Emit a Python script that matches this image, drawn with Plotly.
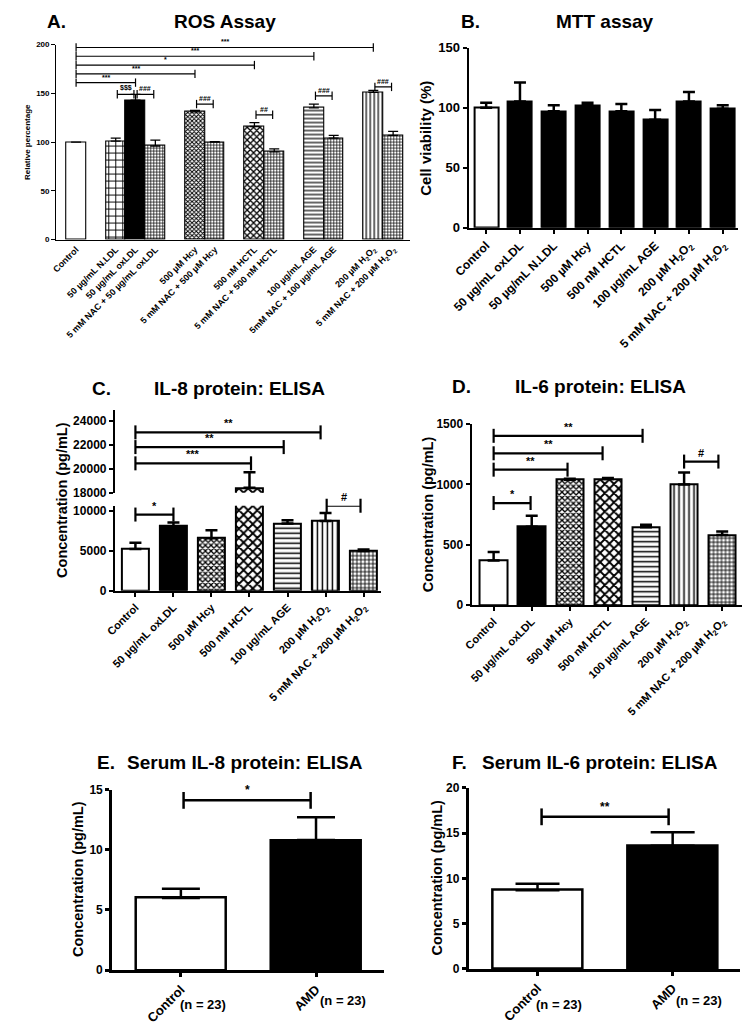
import plotly.graph_objects as go

FONT = "Arial, 'Liberation Sans', sans-serif"
PAGE_MARGIN = 8          # default body margin of the html page
W, H = 750 - PAGE_MARGIN, 1036 - PAGE_MARGIN

# ---------------- DATA ----------------
# A. ROS assay
A_labels = ["Control", "50 µg/mL N.LDL", "50 µg/mL oxLDL", "5 mM NAC + 50 µg/mL oxLDL",
            "500 µM Hcy", "5 mM NAC + 500 µM Hcy", "500 nM HCTL", "5 mM NAC + 500 nM HCTL",
            "100 µg/mL AGE", "5mM NAC + 100 µg/mL AGE",
            "200 µM H<sub>2</sub>O<sub>2</sub>", "5 mM NAC + 200 µM H<sub>2</sub>O<sub>2</sub>"]
A_group_sizes = [1, 3, 2, 2, 2, 2]
A_values = [100, 101, 143, 96, 131, 100, 116, 90, 135, 104, 151, 107]
A_errors = [0, 3, 6, 6, 1.5, 0.5, 4, 3, 4, 3, 2, 4]
A_ticks = [0, 50, 100, 150, 200]
# (from index, to index, y, label)
A_brackets = [(0, 10, 197, "***"), (0, 8, 188, "***"), (0, 6, 179, "*"), (0, 4, 170, "***"),
              (0, 2, 161, "***"), (1, 2, 149, "$$$"), (2, 3, 149, "###"), (4, 5, 139, "###"),
              (6, 7, 128, "##"), (8, 9, 147.5, "###"), (10, 11, 156.6, "###")]

# B. MTT assay
B_labels = ["Control", "50 µg/mL oxLDL", "50 µg/mL N.LDL", "500 µM Hcy", "500 nM HCTL",
            "100 µg/mL AGE", "200 µM H<sub>2</sub>O<sub>2</sub>",
            "5 mM NAC + 200 µM H<sub>2</sub>O<sub>2</sub>"]
B_values = [100, 105, 97, 102, 97, 90, 105, 99]
B_errors = [4, 16, 5, 2, 6, 8, 8, 3]
B_ticks = [0, 50, 100, 150]

# C. IL-8 ELISA and D. IL-6 ELISA share categories
CD_labels = ["Control", "50 µg/mL oxLDL", "500 µM Hcy", "500 nM HCTL", "100 µg/mL AGE",
             "200 µM H<sub>2</sub>O<sub>2</sub>", "5 mM NAC + 200 µM H<sub>2</sub>O<sub>2</sub>"]
C_values = [5200, 8050, 6550, 18400, 8400, 8700, 4950]
C_errors = [800, 450, 1000, 1300, 400, 1000, 200]
C_ticks_low = [0, 5000, 10000]
C_ticks_high = [18000, 20000, 22000, 24000]
C_brackets_high = [(0, 4.87, 23040, "**"), (0, 3.9, 21810, "**"), (0, 3.04, 20450, "***")]
C_brackets_low = [(0, 1, 9500, "*"), (5.03, 5.92, 10600, "#")]

D_values = [370, 650, 1040, 1045, 645, 1000, 580]
D_errors = [70, 90, 8, 8, 20, 100, 30]
D_ticks = [0, 500, 1000, 1500]
D_brackets = [(0, 4.7, 1563, "**"), (0, 3.91, 1404, "**"), (0, 2.86, 1259, "**"),
              (0, 1.94, 1123, "**"), (0, 0.97, 846, "*"), (5, 5.9, 1190, "#")]

# E / F. Serum ELISA
EF_labels = ["Control", "AMD"]
EF_n = ["(n = 23)", "(n = 23)"]
E_values = [6.0, 10.8]
E_errors = [0.75, 1.9]
E_ticks = [0, 5, 10, 15]
E_brackets = [(0.02, 0.96, 14.1, "*")]
F_values = [8.7, 13.6]
F_errors = [0.7, 1.5]
F_ticks = [0, 5, 10, 15, 20]
F_brackets = [(0.03, 0.97, 16.8, "**")]

# ---------------- STYLES ----------------
# pattern per bar: (fill colour, shape, size, solidity)
PAT_A = {
    "white": ("white", "", 8, 0.3),
    "black": ("black", "", 8, 0.3),
    "biggrid": ("white", "+", 7, 0.25),
    "finegrid": ("white", "+", 3, 0.4),
    "dots": ("white", "x", 3, 0.55),
    "checker": ("white", "x", 4.5, 0.5),
    "hlines": ("white", "-", 4, 0.3),
    "vlines": ("white", "|", 4, 0.3),
}
PAT_CD = {
    "white": ("white", "", 8, 0.3),
    "black": ("black", "", 8, 0.3),
    "finegrid": ("white", "+", 4, 0.4),
    "dots": ("white", "x", 4, 0.55),
    "checker": ("white", "x", 6.5, 0.5),
    "hlines": ("white", "-", 5, 0.3),
    "vlines": ("white", "|", 5, 0.3),
}
A_pat = ["white", "biggrid", "black", "finegrid", "dots", "finegrid", "checker", "finegrid",
         "hlines", "finegrid", "vlines", "finegrid"]
B_pat = ["white"] + ["black"] * 7
CD_pat = ["white", "black", "dots", "checker", "hlines", "vlines", "finegrid"]


def fx(px):
    return (px - PAGE_MARGIN) / W


def fy(px):
    return 1 - (px - PAGE_MARGIN) / H


fig = go.Figure()
annotations = []


def add_bars(x, values, errors, pats, pat_table, xa, ya, width, olw, ew, ecap):
    for xi, v, e, p in zip(x, values, errors, pats):
        col, shape, size, sol = pat_table[p]
        marker = dict(color=col, line=dict(color="black", width=olw))
        if shape:
            marker["pattern"] = dict(shape=shape, size=size, solidity=sol,
                                     fgcolor="black", bgcolor="white", fillmode="replace")
        fig.add_trace(go.Bar(
            x=[xi], y=[v], width=width, xaxis=xa, yaxis=ya, showlegend=False,
            hoverinfo="skip", marker=marker,
            error_y=dict(type="data", array=[e], arrayminus=[0], symmetric=False,
                         color="black", thickness=ew, width=ecap),
        ))


def add_bracket(x0, x1, y, label, xa, ya, lw, cap, fsize, yshift=1):
    fig.add_trace(go.Scatter(
        x=[x0, x1], y=[y, y], xaxis=xa, yaxis=ya, mode="lines+markers", showlegend=False,
        hoverinfo="skip", cliponaxis=False,
        line=dict(color="black", width=lw),
        marker=dict(symbol="line-ns", size=cap, line=dict(color="black", width=lw)),
    ))
    annotations.append(dict(x=(x0 + x1) / 2, y=y, xref=xa, yref=ya, text=label, showarrow=False,
                            yanchor="bottom", yshift=yshift, font=dict(size=fsize)))


def title(letter, lx, text, tx, y, size=19):
    annotations.append(dict(x=fx(lx), y=fy(y), xref="paper", yref="paper", text=letter,
                            showarrow=False, xanchor="center", yanchor="middle",
                            font=dict(size=size)))
    annotations.append(dict(x=fx(tx), y=fy(y), xref="paper", yref="paper", text=text,
                            showarrow=False, xanchor="center", yanchor="middle",
                            font=dict(size=size)))


def ytitle(text, x, y, size):
    annotations.append(dict(x=fx(x), y=fy(y), xref="paper", yref="paper", text=text,
                            showarrow=False, textangle=-90, xanchor="center", yanchor="middle",
                            font=dict(size=size)))


def xaxis_cfg(dom, rng, tickvals, ticktext, anchor, fsize, lw, ticks="outside"):
    return dict(domain=[fx(dom[0]), fx(dom[1])], range=rng, tickvals=tickvals, ticktext=ticktext,
                tickangle=-45, showline=True, linecolor="black", linewidth=lw, ticks=ticks,
                ticklen=4, tickwidth=lw, tickcolor="black", showgrid=False, zeroline=False,
                tickfont=dict(size=fsize), anchor=anchor, fixedrange=True)


def yaxis_cfg(dom, rng, tickvals, anchor, fsize, lw):
    return dict(domain=[fy(dom[1]), fy(dom[0])], range=rng, tickvals=tickvals,
                ticktext=[str(t) for t in tickvals],
                showline=True, linecolor="black", linewidth=lw, ticks="outside", ticklen=4,
                tickwidth=lw, tickcolor="black", showgrid=False, zeroline=False,
                tickfont=dict(size=fsize), anchor=anchor, fixedrange=True)


# ---------- Panel A ----------
A_pos = []
p = 0
for g in A_group_sizes:
    for _ in range(g):
        A_pos.append(p)
        p += 1
    p += 1
add_bars(A_pos, A_values, A_errors, A_pat, PAT_A, "x", "y", 1.0, 1.1, 1.3, 5)
for i, j, yv, lab in A_brackets:
    x0, x1 = A_pos[i], A_pos[j]
    if j - i == 1:
        x0, x1 = x0 + 0.08, x1 - 0.08
    add_bracket(x0, x1, yv, lab, "x", "y", 1.2, 6, 7, yshift=0)

# ---------- Panel B ----------
B_pos = list(range(len(B_labels)))
add_bars(B_pos, B_values, B_errors, B_pat, PAT_A, "x2", "y2", 0.71, 2, 2.5, 6)

# ---------- Panel C (broken axis) ----------
CD_pos = list(range(len(CD_labels)))
add_bars(CD_pos, C_values, C_errors, CD_pat, PAT_CD, "x3", "y3", 0.72, 2, 2.5, 6)
add_bars(CD_pos, C_values, C_errors, CD_pat, PAT_CD, "x3", "y4", 0.72, 2, 2.5, 6)
for x0, x1, yv, lab in C_brackets_high:
    add_bracket(x0, x1, yv, lab, "x3", "y4", 2.2, 10, 11)
for x0, x1, yv, lab in C_brackets_low:
    add_bracket(x0, x1, yv, lab, "x3", "y3", 2.2, 10, 11)

# ---------- Panel D ----------
add_bars(CD_pos, D_values, D_errors, CD_pat, PAT_CD, "x4", "y5", 0.72, 2, 2.5, 6)
for x0, x1, yv, lab in D_brackets:
    add_bracket(x0, x1, yv, lab, "x4", "y5", 2.2, 10, 11)

# ---------- Panel E ----------
EF_pos = [0, 1]
add_bars(EF_pos, E_values, E_errors, ["white", "black"], PAT_A, "x5", "y6", 0.66, 2.5, 2.5, 19)
for x0, x1, yv, lab in E_brackets:
    add_bracket(x0, x1, yv, lab, "x5", "y6", 2.5, 12, 12)

# ---------- Panel F ----------
add_bars(EF_pos, F_values, F_errors, ["white", "black"], PAT_A, "x6", "y7", 0.66, 2.5, 2.5, 22)
for x0, x1, yv, lab in F_brackets:
    add_bracket(x0, x1, yv, lab, "x6", "y7", 2.5, 12, 12)

# ---------- titles ----------
title("A.", 40, "ROS Assay", 213, 15)
title("B.", 464, "MTT assay", 602, 15)
title("C.", 86, "IL-8 protein: ELISA", 228, 387)
title("D.", 455, "IL-6 protein: ELISA", 597, 385)
title("E.", 91, "Serum IL-8 protein: ELISA", 233, 767)
title("F.", 453, "Serum IL-6 protein: ELISA", 596, 767)

ytitle("Relative percentage", 10, 137, 8)
ytitle("Cell viability (%)", 418, 133, 15)
ytitle("Concentration (pg/mL)", 46, 500, 14.5)
ytitle("Concentration (pg/mL)", 420, 515, 14.5)
ytitle("Concentration (pg/mL)", 62, 885, 14.5)
ytitle("Concentration (pg/mL)", 430, 883, 14.5)

# (n = 23) labels
for xa, xs in (("x5", [190, 333]), ("x6", [555, 698])):
    for k, t in enumerate(EF_n):
        annotations.append(dict(x=fx(xs[k]), y=fy(1012 if k == 0 else 1008), xref="paper",
                                yref="paper", text=t, showarrow=False, xanchor="center",
                                yanchor="middle", font=dict(size=13)))

fig.update_layout(
    width=W, height=H, margin=dict(l=0, r=0, t=0, b=0),
    paper_bgcolor="white", plot_bgcolor="rgba(0,0,0,0)",
    font=dict(family=FONT, color="black", weight="bold"),
    showlegend=False, bargap=0, barmode="overlay",
    xaxis=xaxis_cfg((40, 402), [-1, 16.85], A_pos, A_labels, "y", 9, 1.3, ticks=""),
    yaxis=yaxis_cfg((38, 236), [0, 200], A_ticks, "x", 8, 1.3),
    xaxis2=xaxis_cfg((462, 738), [-0.52, 7.46], B_pos, B_labels, "y2", 12, 2),
    yaxis2=yaxis_cfg((41, 224), [0, 150], B_ticks, "x2", 13, 2),
    xaxis3=xaxis_cfg((100, 372), [-0.54, 6.45], CD_pos, CD_labels, "y3", 11, 2),
    yaxis3=yaxis_cfg((506, 592.3), [0, 10600], C_ticks_low, "x3", 12, 2),
    yaxis4=yaxis_cfg((409, 492.7), [18000, 24900], C_ticks_high, "x3", 12, 2),
    xaxis4=xaxis_cfg((465, 743), [-0.58, 6.55], CD_pos, CD_labels, "y5", 11, 2),
    yaxis5=yaxis_cfg((423.3, 606.7), [0, 1500], D_ticks, "x4", 12, 2),
    xaxis5=xaxis_cfg((97, 375), [-0.51, 1.5], EF_pos, EF_labels, "y6", 13, 2.5),
    yaxis6=yaxis_cfg((794, 977.3), [0, 15], E_ticks, "x5", 12, 2.5),
    xaxis6=xaxis_cfg((462, 740), [-0.51, 1.5], EF_pos, EF_labels, "y7", 13, 2.5),
    yaxis7=yaxis_cfg((792.3, 976), [0, 20], F_ticks, "x6", 12, 2.5),
    annotations=annotations,
)

fig.write_html("out.html")
